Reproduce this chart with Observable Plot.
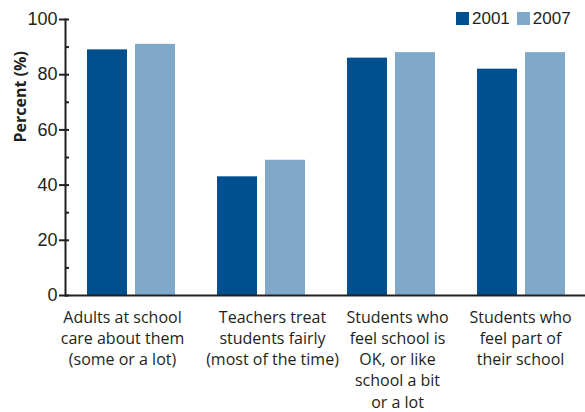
<!DOCTYPE html>
<html><head><meta charset="utf-8">
<script src="https://cdn.jsdelivr.net/npm/d3@7"></script>
<script src="https://cdn.jsdelivr.net/npm/@observablehq/plot@0.6"></script>
<style>
body{margin:0;background:#fff}
#wrap{position:relative;width:585px;height:412px}
.legend{position:absolute;top:10px;left:456px;display:flex;align-items:center;font:17px 'Liberation Sans',sans-serif;color:#231f20;line-height:17px}
.legend .item{display:flex;align-items:center;margin-right:7px}
.legend .sw{display:inline-block;width:13px;height:13px;margin-right:3px}
</style></head><body><div id="wrap"></div>
<script>
const categories = ["Adults at school care about them (some or a lot)", "Teachers treat students fairly (most of the time)", "Students who feel school is OK, or like school a bit or a lot", "Students who feel part of their school"];
const categoryLabels = ["Adults at school\ncare about them\n(some or a lot)", "Teachers treat\nstudents fairly\n(most of the time)", "Students who\nfeel school is\nOK, or like\nschool a bit\nor a lot", "Students who\nfeel part of\ntheir school"];
const years = ["2001", "2007"];
const values2001 = [89, 43, 86, 82];
const values2007 = [91, 49, 88, 88];
const yTicks = [0, 20, 40, 60, 80, 100];
const yMinorTicks = [10, 30, 50, 70, 90];
const yLabel = "Percent (%)";

const colors = ["#00508f", "#80a8c9"];
const ink = "#231f20";
const labelDx = [-9, 11, 6, -1];

const data = categories.flatMap((c, i) => [
  {category: c, year: years[0], value: values2001[i]},
  {category: c, year: years[1], value: values2007[i]}
]);
const labelOf = new Map(categories.map((c, i) => [c, categoryLabels[i]]));

const chart = Plot.plot({
  width: 585,
  height: 412,
  marginTop: 19,
  marginBottom: 117,
  marginLeft: 65,
  marginRight: 0,
  style: {fontFamily: "'Liberation Sans', sans-serif", color: ink, background: "#fff"},
  x: {domain: categories, range: [65, 588], paddingInner: 0.32, paddingOuter: 0.16},
  y: {domain: [0, 100]},
  color: {domain: years, range: colors},
  marks: [
    Plot.barY(data.filter(d => d.year === years[0]), {x: "category", y: "value", fill: "year", insetRight: 48}),
    Plot.barY(data.filter(d => d.year === years[1]), {x: "category", y: "value", fill: "year", insetLeft: 48}),
    Plot.frame({anchor: "left", stroke: ink, strokeWidth: 2}),
    Plot.ruleY([0], {stroke: ink, strokeWidth: 2}),
    Plot.axisY({ticks: yMinorTicks, tickSize: 4, dx: 4, tickFormat: () => "", strokeWidth: 2, stroke: ink, label: null}),
    Plot.axisY({ticks: yTicks, tickSize: 10, dx: 4, tickPadding: 2, strokeWidth: 2, stroke: ink, fill: ink, fontSize: 18, label: null}),
    ...categories.map((c, i) => Plot.axisX({
      ticks: [c],
      tickSize: 0, tickPadding: 12, dx: labelDx[i], fontSize: 16, lineHeight: 1.33,
      fontFamily: "'Open Sans', sans-serif", fill: ink,
      tickFormat: d => labelOf.get(d), label: null
    })),
    Plot.text([yLabel], {frameAnchor: "left", dx: -45, dy: -15, rotate: -90, fontWeight: "bold", fontSize: 16, fill: ink, fontFamily: "'Open Sans', sans-serif"})
  ]
});

const wrap = document.getElementById("wrap");
wrap.appendChild(chart);
const legend = document.createElement("div");
legend.className = "legend";
years.forEach((y, i) => {
  const item = document.createElement("span");
  item.className = "item";
  item.innerHTML = `<span class="sw" style="background:${colors[i]}"></span><span>${y}</span>`;
  legend.appendChild(item);
});
wrap.appendChild(legend);
</script></body></html>
